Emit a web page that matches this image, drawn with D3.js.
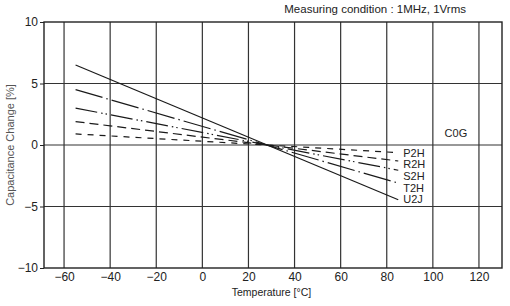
<!DOCTYPE html>
<html>
<head>
<meta charset="utf-8">
<script src="https://cdn.jsdelivr.net/npm/d3@7"></script>
<style>
  body { margin: 0; background: #fff; }
  svg text { font-family: "Liberation Sans", Arial, sans-serif; fill: #222; }
</style>
</head>
<body>
<svg width="510" height="306"></svg>
<script>
// data
const temps = [-55, 85];
const seriesNames = ["U2J", "T2H", "S2H", "R2H", "P2H"];
const seriesValues = [
  [6.5, -4.45],
  [4.5, -3.1],
  [3.0, -2.05],
  [1.9, -1.3],
  [0.9, -0.62]
];
const xTicks = [-60, -40, -20, 0, 20, 40, 60, 80, 100, 120];
const yTicks = [-10, -5, 0, 5, 10];
const labelOrder = ["P2H", "R2H", "S2H", "T2H", "U2J"];

const svg = d3.select("svg"),
      margin = {top: 22, right: 8, bottom: 38, left: 44},
      width = +svg.attr("width") - margin.left - margin.right,
      height = +svg.attr("height") - margin.top - margin.bottom;

const g = svg.append("g").attr("transform", `translate(${margin.left},${margin.top})`);

const x = d3.scaleLinear().domain([-68.7, 130]).range([0, width]);
const y = d3.scaleLinear().domain([-10, 10]).range([height, 0]);

// grid
g.append("g")
  .selectAll("line")
  .data(xTicks)
  .join("line")
    .attr("x1", d => x(d)).attr("x2", d => x(d))
    .attr("y1", 0).attr("y2", height)
    .attr("stroke", "#333").attr("stroke-width", 1.2);

g.append("g")
  .selectAll("line")
  .data(yTicks.filter(d => d > -10 && d < 10))
  .join("line")
    .attr("x1", 0).attr("x2", width)
    .attr("y1", d => y(d)).attr("y2", d => y(d))
    .attr("stroke", "#333").attr("stroke-width", 1.2);

g.append("rect")
  .attr("width", width).attr("height", height)
  .attr("fill", "none").attr("stroke", "#222").attr("stroke-width", 1.4);

// axes
const fmt = d => d < 0 ? "\u2212" + Math.abs(d) : d;
const yAxis = g.append("g")
  .call(d3.axisLeft(y).tickValues(yTicks).tickSize(4).tickFormat(fmt));
yAxis.select(".domain").remove();
yAxis.selectAll("line").attr("stroke", "#222");
yAxis.selectAll("text").style("font-size", "12px").attr("dx", "1");

const xAxis = g.append("g")
  .attr("transform", `translate(0,${height})`)
  .call(d3.axisBottom(x).tickValues(xTicks).tickSize(0).tickFormat(fmt));
xAxis.select(".domain").remove();
xAxis.selectAll("text").style("font-size", "12px").attr("dy", "0.82em");

// lines
const dashes = {
  U2J: null,
  T2H: "28,4,1.5,4",
  S2H: "22,4,1.5,3,1.5,4",
  R2H: "9,5",
  P2H: "6,6"
};

const series = seriesNames.map((name, i) => ({
  name,
  points: temps.map((t, j) => ({t, v: seriesValues[i][j]}))
}));

const line = d3.line().x(d => x(d.t)).y(d => y(d.v));

g.append("g")
  .selectAll("path")
  .data(series)
  .join("path")
    .attr("d", d => line(d.points))
    .attr("fill", "none")
    .attr("stroke", "#1a1a1a")
    .attr("stroke-width", 1.2)
    .attr("stroke-dasharray", d => dashes[d.name]);

// series labels stacked from the top line end
const p2h = seriesValues[seriesNames.indexOf("P2H")];
g.append("g")
  .selectAll("text")
  .data(labelOrder)
  .join("text")
    .attr("x", x(temps[1]) + 5)
    .attr("y", (d, i) => y(p2h[1]) + i * 11.7)
    .attr("dy", "0.36em")
    .style("font-size", "11px")
    .text(d => d);

g.append("text")
  .attr("x", x(110))
  .attr("y", y(0) - 8)
  .attr("text-anchor", "middle")
  .style("font-size", "11px")
  .text("C0G");

// titles
svg.append("text")
  .attr("x", 466)
  .attr("y", 13)
  .attr("text-anchor", "end")
  .style("font-size", "11.5px")
  .text("Measuring condition : 1MHz, 1Vrms");

svg.append("text")
  .attr("x", margin.left + x(30))
  .attr("y", 296)
  .attr("text-anchor", "middle")
  .style("font-size", "10.5px")
  .text("Temperature [\u00B0C]");

svg.append("text")
  .attr("transform", `translate(14,${margin.top + y(0)}) rotate(-90)`)
  .attr("text-anchor", "middle")
  .style("font-size", "11px")
  .style("fill", "#555")
  .text("Capacitance Change [%]");
</script>
</body>
</html>
